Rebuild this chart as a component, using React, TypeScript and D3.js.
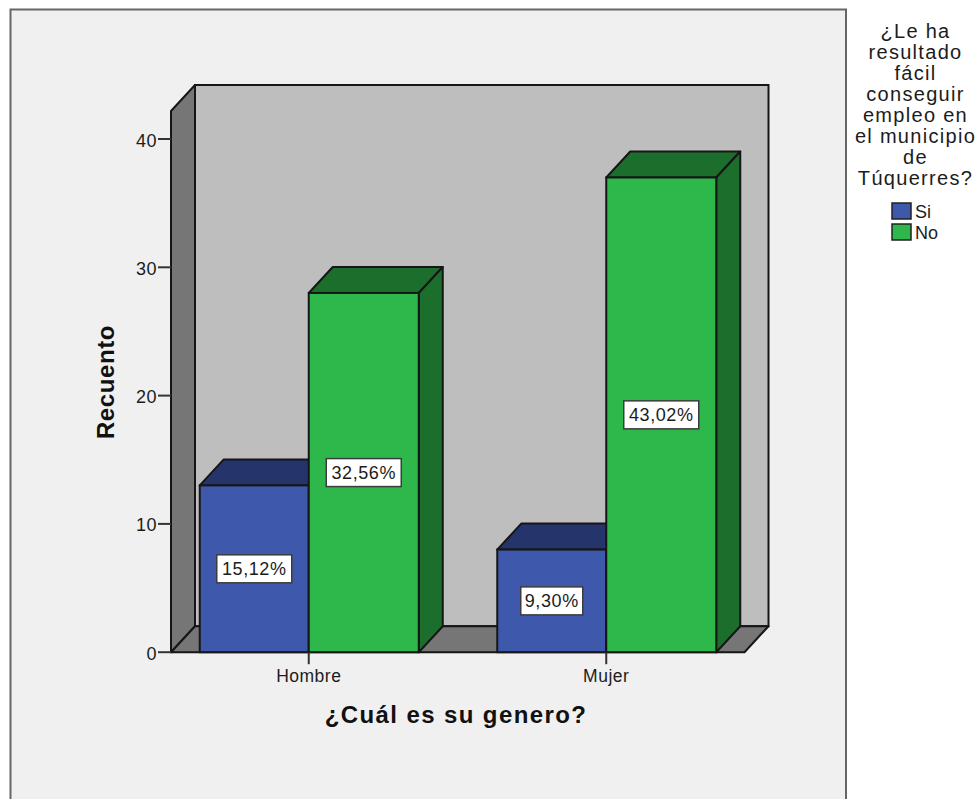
import React from "react";
import * as d3 from "d3";

const categories = ["Hombre", "Mujer"];
const seriesNames = ["Si", "No"];
const siValues = [13, 8];
const noValues = [28, 37];
const siLabels = ["15,12%", "9,30%"];
const noLabels = ["32,56%", "43,02%"];
const yTicks = [0, 10, 20, 30, 40];
const legendTitle = ["¿Le ha", "resultado", "fácil", "conseguir", "empleo en", "el municipio", "de", "Túquerres?"];

const FONT = "'Liberation Sans', Arial, sans-serif";
const W = 979, H = 799;
const DX = 24, DY = -26;
const plotLeft = 171, plotRight = 744.5, plotTopFront = 111;
const STROKE = "#161616";

const y = d3.scaleLinear().domain([0, 40]).range([652.2, 139]);
const x0 = d3.scaleBand<string>().domain(categories).range([160, 755]);
// bar edges relative to the category centre
const edge = d3.scaleLinear().domain([-1, 0, 1]).range([-109, 0, 110]);

const colors: Record<string, { front: string; top: string; side: string }> = {
  Si: { front: "#3e58ac", top: "#25346b", side: "#25346b" },
  No: { front: "#2eb84b", top: "#1c6e2d", side: "#1c6e2d" },
};

const poly = (pts: [number, number][]) => (d3.line()(pts) ?? "") + "Z";

function Bar({ cat, name, value, label }: { cat: string; name: string; value: number; label: string }) {
  const c0 = (x0(cat) ?? 0) + x0.bandwidth() / 2;
  const idx = seriesNames.indexOf(name);
  const l = c0 + edge(idx - 1);
  const r = c0 + edge(idx);
  const t = y(value), b = y(0);
  const c = colors[name];
  const cx = (l + r) / 2, cy = (t + b) / 2;
  const boxW = label.length > 5 ? 75 : 62;
  return (
    <g>
      <path d={poly([[l, t], [l + DX, t + DY], [r + DX, t + DY], [r, t]])} fill={c.top} stroke={STROKE} strokeWidth={2} strokeLinejoin="round" />
      <path d={poly([[r, t], [r + DX, t + DY], [r + DX, b + DY], [r, b]])} fill={c.side} stroke={STROKE} strokeWidth={2} strokeLinejoin="round" />
      <rect x={l} y={t} width={r - l} height={b - t} fill={c.front} stroke={STROKE} strokeWidth={2} />
      <rect x={cx - boxW / 2} y={cy - 14} width={boxW} height={28} fill="#ffffff" stroke="#3c3c3c" strokeWidth={1.5} />
      <text x={cx} y={cy + 6.5} textAnchor="middle" fontSize={18} letterSpacing={0.6} fill="#1c1c1c" fontFamily={FONT}>{label}</text>
    </g>
  );
}

export default function App() {
  const y0 = y(0);
  return (
    <svg width={W} height={H} viewBox={`0 0 ${W} ${H}`} style={{ position: "absolute", left: 0, top: 0, display: "block" }}>
      <rect x={0} y={0} width={W} height={H} fill="#ffffff" />
      <rect x={10.5} y={9.5} width={835.5} height={810} fill="#f0f0f0" stroke="#666666" strokeWidth={2} />

      {/* back wall */}
      <rect x={plotLeft + DX} y={plotTopFront + DY} width={plotRight - plotLeft} height={y0 - plotTopFront} fill="#bebebe" stroke={STROKE} strokeWidth={2} />
      {/* left wall */}
      <path d={poly([[plotLeft, plotTopFront], [plotLeft + DX, plotTopFront + DY], [plotLeft + DX, y0 + DY], [plotLeft, y0]])} fill="#767676" stroke={STROKE} strokeWidth={2} strokeLinejoin="round" />
      {/* floor */}
      <path d={poly([[plotLeft, y0], [plotLeft + DX, y0 + DY], [plotRight + DX, y0 + DY], [plotRight, y0]])} fill="#767676" stroke={STROKE} strokeWidth={2} strokeLinejoin="round" />

      {categories.map((cat, i) => (
        <g key={cat}>
          <Bar cat={cat} name="Si" value={siValues[i]} label={siLabels[i]} />
          <Bar cat={cat} name="No" value={noValues[i]} label={noLabels[i]} />
        </g>
      ))}

      {/* y axis */}
      {yTicks.map((t) => (
        <g key={t}>
          <line x1={plotLeft - 13} x2={plotLeft} y1={y(t)} y2={y(t)} stroke="#333333" strokeWidth={2} />
          <text x={plotLeft - 14} y={y(t) + 7.5} textAnchor="end" fontSize={18} letterSpacing={0.5} fill="#1c1c1c" fontFamily={FONT}>{t}</text>
        </g>
      ))}
      {/* x axis */}
      {categories.map((cat) => {
        const cx = (x0(cat) ?? 0) + x0.bandwidth() / 2;
        return (
          <g key={cat}>
            <line x1={cx} x2={cx} y1={y0} y2={y0 + 12} stroke="#333333" strokeWidth={2} />
            <text x={cx} y={682} textAnchor="middle" fontSize={17.5} letterSpacing={0.5} fill="#1c1c1c" fontFamily={FONT}>{cat}</text>
          </g>
        );
      })}

      <text transform="translate(114,382) rotate(-90)" textAnchor="middle" fontSize={24} fontWeight="bold" letterSpacing={0.6} fill="#111111" fontFamily={FONT}>Recuento</text>
      <text x={456} y={723} textAnchor="middle" fontSize={24} fontWeight="bold" letterSpacing={1.4} fill="#111111" fontFamily={FONT}>¿Cuál es su genero?</text>

      {/* legend */}
      {legendTitle.map((line, i) => (
        <text key={line} x={915.5} y={38 + i * 21} textAnchor="middle" fontSize={20} letterSpacing={1.3} fill="#1c1c1c" fontFamily={FONT}>{line}</text>
      ))}
      {seriesNames.map((name, i) => (
        <g key={name}>
          <rect x={892} y={203 + i * 21} width={19} height={16} fill={colors[name].front} stroke="#222222" strokeWidth={1.5} />
          <text x={915} y={217.5 + i * 21} fontSize={18} fill="#1c1c1c" fontFamily={FONT}>{name}</text>
        </g>
      ))}
    </svg>
  );
}
